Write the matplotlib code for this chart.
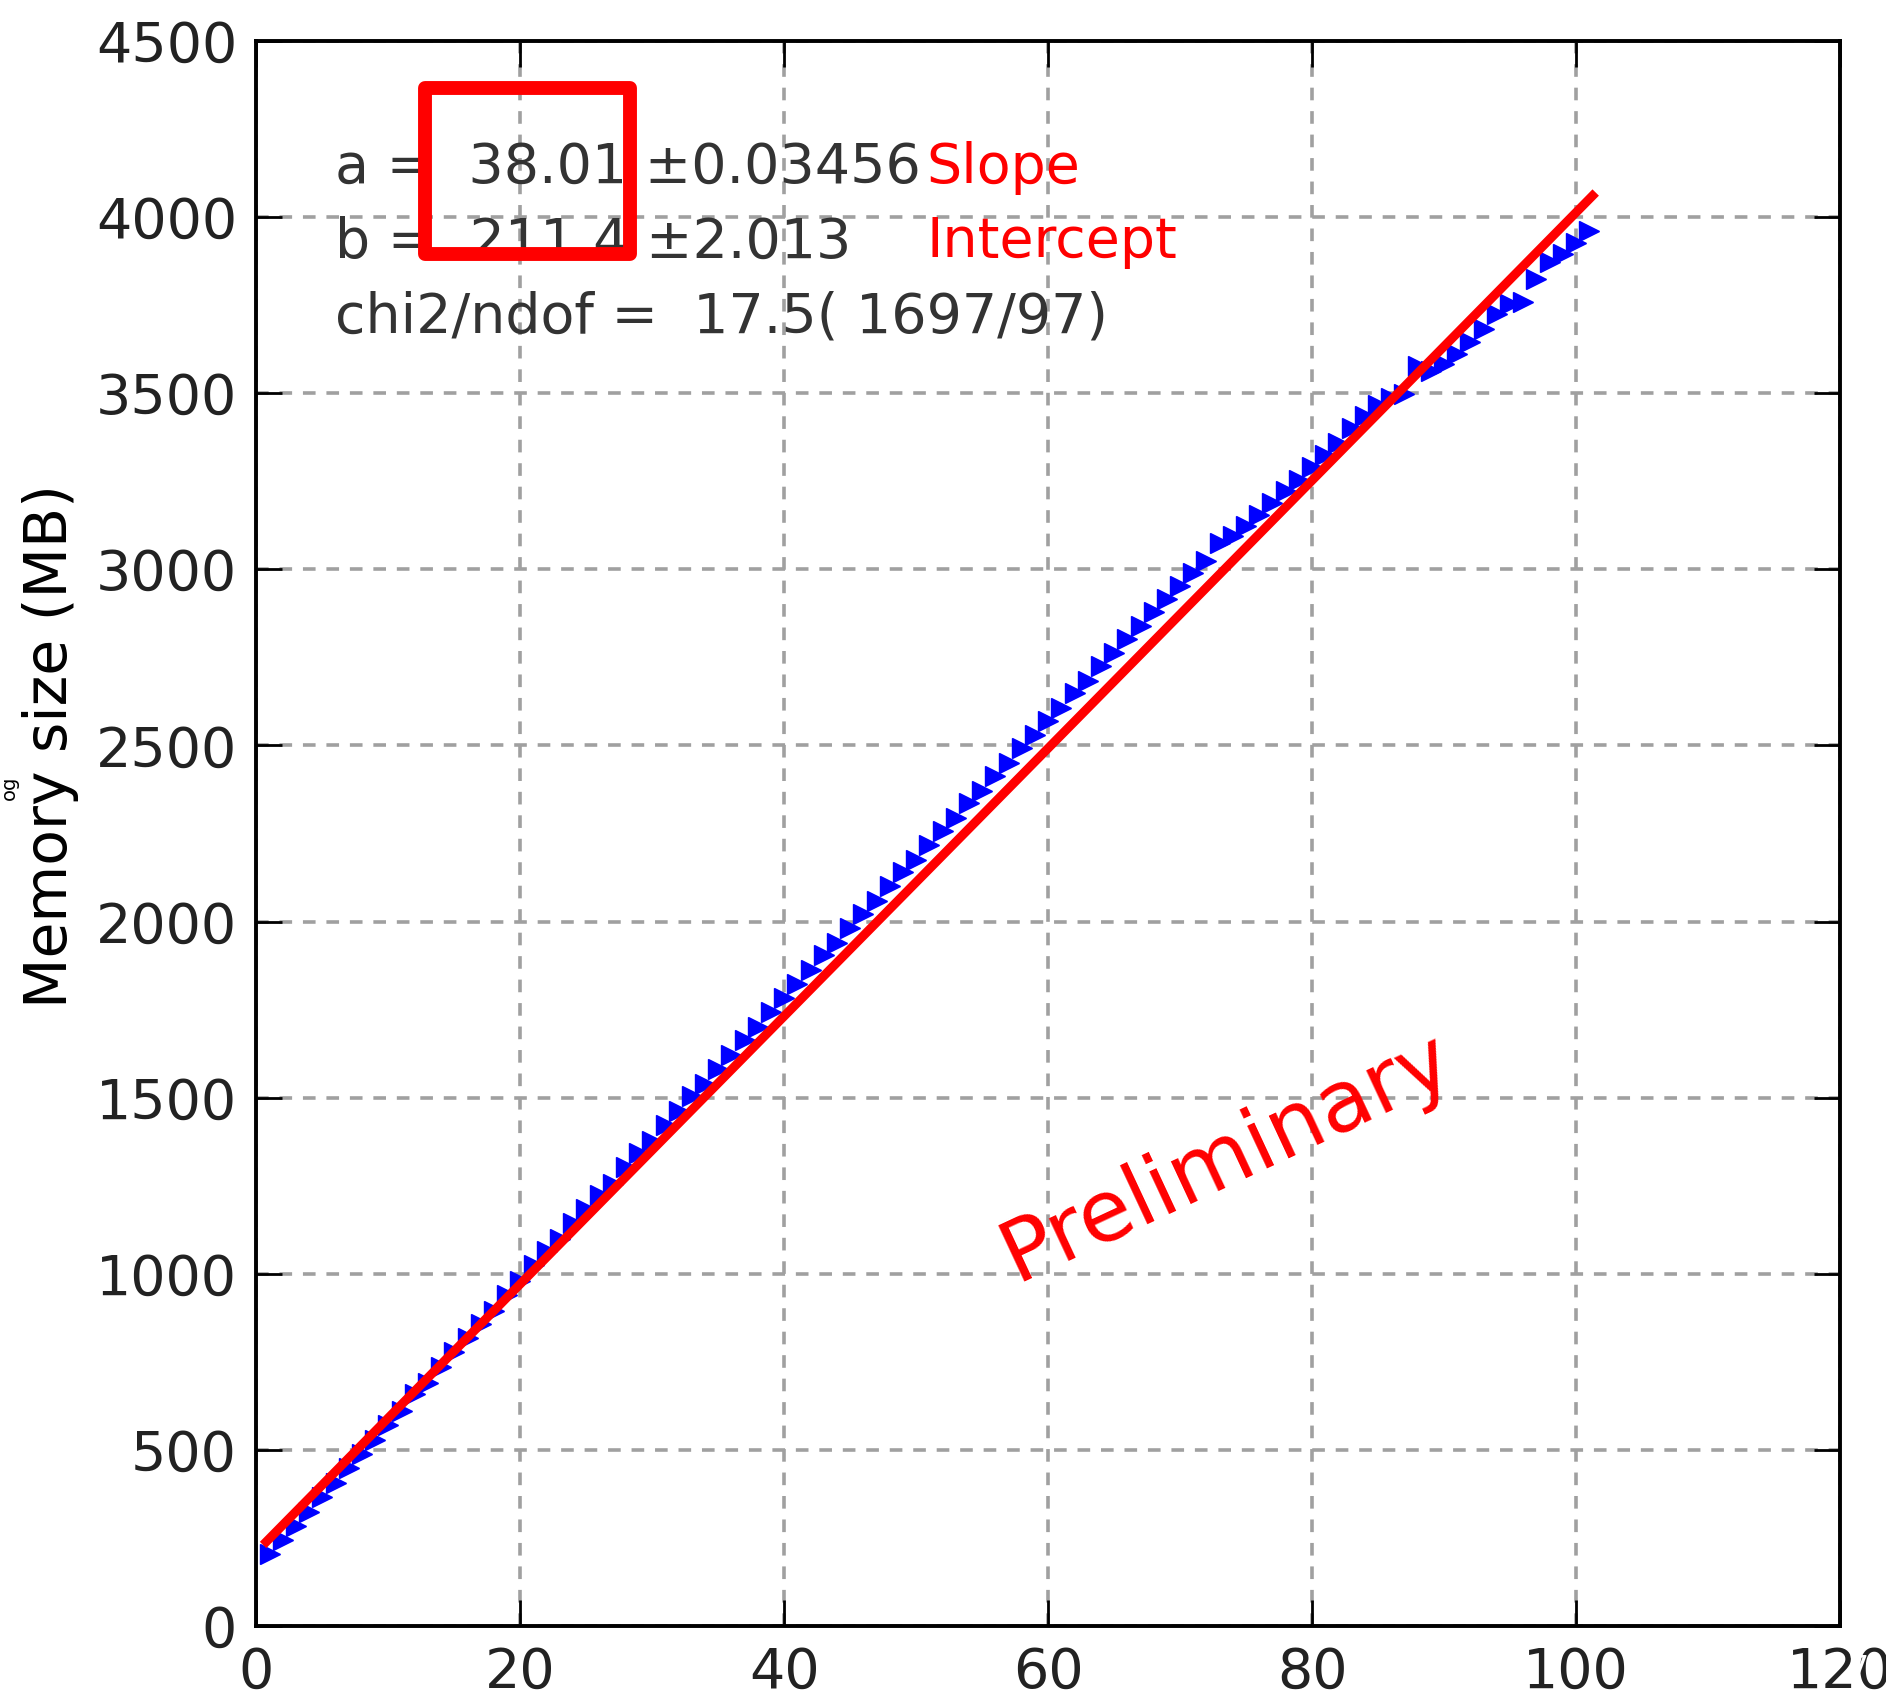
import matplotlib
matplotlib.use("Agg")
import matplotlib.pyplot as plt
from matplotlib.patches import Rectangle

# measured points (job index vs memory size in MB)
x_vals = list(range(1, 102))
mem_mb = [
    204, 245, 285, 325, 366, 407, 448, 488, 529, 570,
    610, 658, 691, 736, 777, 817, 858, 894, 939, 980,
    1025, 1066, 1098, 1144, 1184, 1225, 1256, 1304, 1344, 1378,
    1422, 1463, 1504, 1540, 1582, 1622, 1663, 1700, 1742, 1782,
    1822, 1863, 1904, 1940, 1982, 2022, 2058, 2100, 2140, 2175,
    2218, 2258, 2293, 2336, 2372, 2414, 2450, 2492, 2529, 2570,
    2606, 2648, 2684, 2726, 2762, 2803, 2838, 2880, 2916, 2952,
    2988, 3023, 3074, 3094, 3122, 3155, 3188, 3221, 3254, 3290,
    3325, 3358, 3402, 3436, 3467, 3485, 3498, 3576, 3564, 3582,
    3610, 3646, 3681, 3724, 3752, 3760, 3823, 3871, 3894, 3927,
    3960,
]

# fit results shown in the box
slope = 38.01
intercept = 211.4
fit_x = [0.5, 101.5]

xticks = [0, 20, 40, 60, 80, 100, 120]
yticks = [0, 500, 1000, 1500, 2000, 2500, 3000, 3500, 4000, 4500]

fit_lines = [
    "a =  38.01 \u00b10.03456",
    "b =  211.4 \u00b12.013",
    "chi2/ndof =  17.5( 1697/97)",
]
labels_red = ["Slope", "Intercept"]

fig = plt.figure(figsize=(18.86, 17.01), dpi=100)
ax = fig.add_axes([0.136, 0.044, 0.8395, 0.932])

ax.plot(x_vals, mem_mb, linestyle="none", marker=">", markersize=15,
        color="#0000ff", markeredgecolor="#0000ff", zorder=3)
ax.plot(fit_x, [slope * v + intercept for v in fit_x], color="#ff0000",
        linewidth=6.5, solid_capstyle="butt", zorder=4)

ax.set_xlim(0, 120)
ax.set_ylim(0, 4500)
ax.set_xticks(xticks)
ax.set_yticks(yticks)
ax.grid(True, color="#a0a0a0", linestyle=(0, (3.5, 3)), linewidth=2.6)
ax.set_axisbelow(True)
ax.tick_params(direction="in", length=19, width=2, top=True, right=True,
               labelsize=40, labelcolor="#222222", pad=14)
for sp in ax.spines.values():
    sp.set_linewidth(2.8)

ax.set_ylabel("Memory size (MB)", fontsize=42, color="black")
ax.yaxis.set_label_coords(-0.112, 0.555)

# fit summary text
for i, line in enumerate(fit_lines):
    ax.text(0.0493, 0.92 - i * 0.0472, line, transform=ax.transAxes,
            fontsize=40, color="#333333", va="center", ha="left")
for i, lab in enumerate(labels_red):
    ax.text(0.423, 0.92 - i * 0.0472, lab, transform=ax.transAxes,
            fontsize=40, color="#ff0000", va="center", ha="left")

ax.add_patch(Rectangle((12.8, 3895), 15.5, 470, fill=False,
                       edgecolor="#ff0000", linewidth=10, clip_on=False,
                       joinstyle="round", zorder=6))

ax.text(73.5, 1330, "Preliminary", fontsize=62, color="#ff0000",
        rotation=25, ha="center", va="center", rotation_mode="anchor")

fig.text(0.0, 0.537, "og", fontsize=14, rotation=90, color="black",
         ha="left", va="center")
fig.text(0.985, 0.018, "7", fontsize=24, color="white", ha="center",
         va="center")

fig.savefig("out.png", dpi=100)
